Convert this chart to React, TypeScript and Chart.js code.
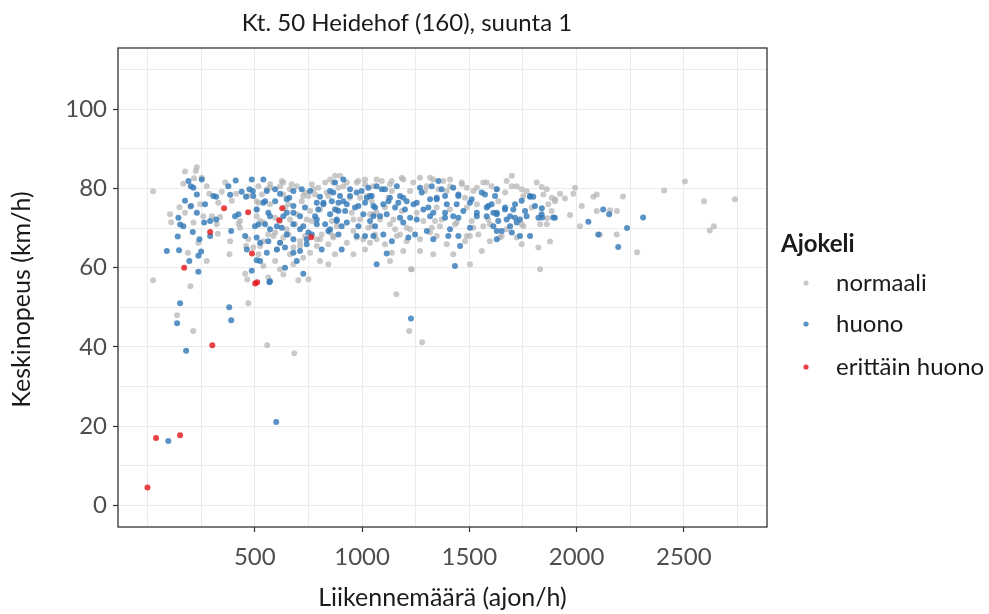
import React, { useEffect, useRef } from "react";
import { Chart, registerables } from "chart.js";

Chart.register(...registerables);

const TITLE = "Kt. 50 Heidehof (160), suunta 1";
const X_TITLE = "Liikennemäärä (ajon/h)";
const Y_TITLE = "Keskinopeus (km/h)";
const LEGEND_TITLE = "Ajokeli";
const SERIES_NAMES = ["normaali", "huono", "erittäin huono"];

// grid breaks and labelled breaks
const X_GRID = [0, 250, 500, 750, 1000, 1250, 1500, 1750, 2000, 2250, 2500, 2750];
const X_LABELED = [500, 1000, 1500, 2000, 2500];
const Y_GRID = [0, 10, 20, 30, 40, 50, 60, 70, 80, 90, 100, 110];
const Y_LABELED = [0, 20, 40, 60, 80, 100];
const X_RANGE = [-137.5, 2887.5];
const Y_RANGE = [-5.5, 115.5];

// [traffic volume (veh/h), mean speed (km/h)]
const normaali: [number, number][] = [
  [26, 56.8], [200, 55.3], [138, 48], [213, 44], [470, 51], [558, 40.4], [684, 38.4], [465, 57],
  [703, 56.8], [1160, 53.3], [1220, 44], [1280, 41.2], [1228, 59.6], [1830, 59.6], [26, 79.3],
  [2505, 81.8], [2408, 79.5], [2594, 76.8], [2738, 77.3], [2621, 69.4], [2640, 70.5], [2282, 63.9],
  [2216, 78], [2156, 74.5], [2188, 74.3], [1900, 77.3], [1863, 72.5],
  [230, 85.4], [225, 84.4], [175, 84.3], [217, 82.6], [253, 82.7], [167, 81.2], [288, 78.7],
  [346, 79.2], [362, 81.5], [149, 75.3], [198, 75.4], [245, 76], [175, 73.9], [110, 71.5],
  [214, 71.4], [260, 73], [300, 73], [338, 72.8], [424, 71.1], [431, 70.1], [328, 68.6],
  [237, 66.3], [188, 63.8], [382, 63.4], [459, 65.5], [470, 67.2], [455, 58.5], [413, 78.7],
  [517, 76.4], [276, 80.6], [330, 76.4], [393, 76.9], [470, 78.1], [105, 73.5], [323, 71],
  [385, 66.7], [431, 71.8], [276, 61.7],
  [626, 81.9], [874, 83.2], [890, 80.2], [571, 81.1], [517, 80.6], [672, 81.1], [766, 81.1],
  [828, 81.5], [975, 81.5], [1014, 82.3], [633, 78.5], [750, 78.1], [781, 78.5], [843, 78.1],
  [991, 77.7], [509, 76.8], [641, 75.2], [696, 73.5], [758, 74.3], [804, 74.7], [952, 73.9],
  [1053, 73.5], [595, 72.6], [664, 72.2], [859, 71.8], [525, 71.8], [595, 68.9], [657, 68.4],
  [812, 68.4], [851, 68.9], [960, 69.3], [1061, 68.4], [540, 66.7], [711, 66.7], [789, 67.2],
  [843, 65.9], [929, 66.3], [1014, 64.6], [493, 65.1], [603, 64.6], [664, 63.4], [758, 63.8],
  [595, 61.7], [804, 61.7], [540, 60.4], [680, 60.9], [633, 58.3], [750, 57.1], [563, 57.5],
  [633, 81.5], [571, 80.2], [533, 78.5], [696, 80.6], [734, 79], [796, 80.2], [866, 81.5],
  [913, 80.6], [944, 77.7], [1022, 78.1], [1045, 76.8], [719, 76.8], [657, 76], [571, 76],
  [509, 73], [618, 71.8], [688, 71], [766, 71.8], [882, 70.5], [991, 72.2], [1029, 70.1],
  [563, 68.4], [633, 67.6], [734, 68], [866, 67.6], [975, 67.6], [1037, 66.3], [525, 65.5],
  [680, 65.1], [789, 65.5], [874, 63.4], [960, 63.4], [726, 62.5], [843, 60.9], [618, 59.6],
  [517, 63.4],
  [509, 74.7], [556, 79.8], [618, 80.6], [664, 79.8], [726, 78.1], [773, 79.8], [835, 79],
  [587, 68], [649, 69.7], [742, 72.2], [804, 67.2], [866, 68], [540, 71.4], [618, 66.3],
  [711, 65.5],
  [851, 82.3], [897, 83.2], [929, 81.5], [983, 81.9], [1014, 81.1], [1068, 82.3], [1138, 81.9],
  [1185, 82.7], [1301, 80.6], [1332, 82.3], [1379, 81.9], [1410, 80.6], [1465, 81.1],
  [1519, 79.4], [1581, 81.5], [1628, 79.8], [1674, 81.9], [1721, 80.6], [1767, 79.4],
  [1814, 81.5], [1861, 79.8], [882, 74.7], [960, 72.2], [1037, 73.5], [1130, 71], [1208, 70.1],
  [1363, 70.5], [1441, 71.4], [1519, 70.1], [1596, 71], [1674, 69.7], [1752, 70.5], [1830, 71],
  [1006, 67.2], [1162, 68], [1317, 68.9], [1488, 68], [1643, 67.6],
  [1092, 81.9], [1192, 82.3], [1270, 82.7], [1317, 82.7], [1139, 79.4], [1224, 79.4],
  [1356, 79.8], [1395, 79.4], [1488, 80.2], [1535, 80.2], [1480, 77.7], [1535, 76], [1348, 75.2],
  [1123, 77.7], [1068, 73.9], [1146, 72.2], [1340, 71.8], [1371, 72.2], [1511, 71.8],
  [1565, 70.5], [1045, 70.5], [1154, 69.7], [1224, 69.7], [1325, 70.1], [1542, 68.4],
  [1208, 66.7], [1270, 67.2], [1480, 66.7], [1192, 64.2], [1332, 63.4], [1558, 64.2],
  [1068, 67.2], [1232, 59.6], [1503, 60.9], [1139, 63.8],
  [1053, 80.6], [1130, 81.1], [1239, 81.5], [1294, 79.4], [1410, 82.3], [1465, 81.5],
  [1565, 81.5], [1604, 80.6], [1107, 75.2], [1185, 74.3], [1255, 73.9], [1410, 74.7],
  [1488, 75.2], [1588, 72.2], [1084, 72.2], [1286, 71.8], [1433, 71], [1107, 65.9], [1177, 68.4],
  [1348, 68], [1395, 65.9], [1503, 68], [1596, 66.7], [1270, 64.2], [1425, 63.4], [1130, 61.7],
  [1698, 83.2], [1698, 80.6], [1744, 79.8], [1838, 80.4], [1993, 80.2], [1667, 79], [1752, 78.1],
  [1845, 78.5], [1884, 77.7], [1923, 78.7], [1946, 77.5], [1985, 78.7], [2078, 77.9],
  [2094, 78.5], [1635, 76.8], [1868, 76], [1899, 76.8], [1791, 75.2], [2024, 75.6], [1884, 74.3],
  [1969, 73.3], [2094, 74.3], [1744, 71], [1861, 71], [2016, 70.5], [1651, 68], [1721, 67.6],
  [1876, 66.6], [2109, 68.3], [2187, 68.4], [1744, 65.9], [1822, 65.1],
];

const huono: [number, number][] = [
  [97, 16.2], [600, 21], [180, 39], [138, 46], [152, 51], [381, 50], [390, 46.7], [568, 56.3],
  [1228, 47.2], [2310, 72.7], [2235, 70],
  [191, 81.9], [202, 80.6], [253, 82.3], [214, 80.2], [307, 78.1], [320, 77.9], [377, 80.6],
  [411, 82], [385, 78.4], [439, 79.2], [459, 77.9], [475, 79.8], [175, 76.9], [230, 78.5],
  [203, 75.6], [268, 76], [230, 73.9], [144, 72.6], [152, 70.9], [167, 70.5], [264, 71.4],
  [292, 71.8], [320, 72.2], [408, 73], [424, 73.5], [211, 69], [141, 67.9], [292, 68],
  [390, 69.3], [455, 68], [242, 67.2], [90, 64.2], [147, 64.4], [250, 64.1], [237, 63],
  [195, 61.7], [237, 59], [463, 64.6], [509, 61.9], [517, 70.9],
  [486, 82.3], [540, 82.3], [491, 79.4], [556, 79.4], [595, 79.8], [618, 78.7], [661, 77.7],
  [719, 79.8], [758, 79.4], [804, 77.9], [851, 79.4], [913, 82.3], [944, 79.8], [897, 78.1],
  [975, 79], [1029, 80.2], [1037, 78.1], [548, 76.8], [595, 76.8], [680, 75.6], [734, 75.2],
  [789, 76.4], [820, 76], [859, 76.8], [929, 76], [983, 75.6], [1014, 76.4], [1061, 75.2],
  [509, 74.7], [563, 73.9], [649, 73.9], [711, 73], [781, 73], [851, 73.5], [890, 74.3],
  [1006, 73.5], [501, 70.5], [548, 71], [571, 69.7], [626, 70.1], [680, 71], [726, 70.5],
  [789, 71], [828, 71], [882, 71.8], [929, 71.4], [983, 70.5], [1037, 71.8], [750, 68.9],
  [766, 68.4], [890, 68.4], [1014, 68], [509, 67.6], [563, 66.7], [618, 66.3], [680, 67.2],
  [641, 65.1], [711, 64.2], [812, 64.6], [905, 64.6], [556, 63.8], [696, 61.7], [525, 61.7],
  [641, 60], [726, 58.5], [571, 56.6], [1068, 60.9], [486, 59.2],
  [680, 79.4], [796, 74.7], [913, 76.8], [633, 73], [843, 69.3], [975, 68], [742, 65.9],
  [649, 68.4],
  [493, 78.1], [540, 76.4], [571, 73], [603, 70.5], [649, 77.3], [680, 73.9], [711, 69.7],
  [742, 67.2], [789, 72.2], [820, 76.4], [851, 69.7], [874, 74.7], [525, 66.3], [603, 64.6],
  [680, 63.8],
  [874, 81.5], [866, 79], [890, 76.4], [921, 74.3], [882, 72.2], [905, 70.5], [944, 78.1],
  [967, 75.2], [998, 79.4], [1022, 77.7], [1053, 75.6], [1084, 73], [1107, 79.8], [1123, 76.8],
  [1162, 80.6], [1177, 78.1], [1200, 74.7], [1224, 72.6], [1255, 76.4], [1278, 79],
  [1309, 75.2], [1317, 73], [1348, 77.3], [1371, 79.8], [1395, 76], [1425, 73], [1449, 78.1],
  [1472, 74.3], [1503, 76.4], [1535, 73], [1558, 79], [1581, 75.2], [1612, 73.9], [1635, 71.8],
  [1666, 74.7], [1690, 73], [1713, 76], [1736, 72.2], [1760, 74.3], [1783, 78.1], [1806, 75.6],
  [1837, 73.5],
  [1068, 80.6], [1092, 79.8], [1045, 78.1], [1099, 76], [1192, 77.7], [1208, 76.8], [1154, 75.2],
  [1270, 80.2], [1325, 80.6], [1356, 81.9], [1425, 80.2], [1317, 77.3], [1387, 78.1],
  [1449, 78.5], [1511, 77.3], [1573, 78.5], [1628, 79.8], [1240, 76], [1286, 74.7], [1332, 73.9],
  [1387, 73.9], [1441, 76], [1588, 75.6], [1628, 73.9], [1053, 73], [1115, 73.5], [1177, 72.6],
  [1192, 71.4], [1255, 72.2], [1387, 72.6], [1449, 72.6], [1581, 73], [1061, 70.5], [1302, 69.3],
  [1410, 69.7], [1503, 70.1], [1628, 69.3], [1099, 68.4], [1247, 68.4], [1402, 68], [1449, 68],
  [1139, 66.7], [1053, 68], [1457, 65.5], [1115, 63.6], [1433, 60.4],
  [1130, 77.7], [1348, 77.7], [1535, 73.9], [1216, 67.6], [1332, 67.2], [1169, 76.4],
  [1620, 78.1], [1783, 77.9], [1798, 77.9], [1744, 76.9], [1604, 76], [1667, 75.2], [1705, 74.7],
  [1838, 75], [1628, 73.5], [1674, 72.2], [1713, 72.6], [1767, 73], [1822, 72.6], [1899, 72.6],
  [2124, 74.7], [2152, 73.5], [2055, 71.6], [1612, 70.5], [1690, 70.5], [1721, 71.4],
  [1651, 69.3], [1698, 68.9], [1628, 67.2], [1736, 68], [1783, 68], [2101, 68.4], [2194, 65.2],
  [1839, 72.7], [1891, 72.7],
];

const erittainHuono: [number, number][] = [
  [0, 4.5], [40, 17], [152, 17.7], [171, 60], [292, 69], [302, 40.4], [357, 75], [469, 74],
  [487, 63.6], [502, 56], [511, 56.3], [614, 72], [628, 75], [763, 67.7],
];

const SERIES_COLORS = ["rgba(180,180,180,0.72)", "rgba(52,122,184,0.82)", "rgba(228,26,28,0.82)"];
const FONT = "Lato, 'Noto Sans', sans-serif";
const FONT_SIZE = 24;
const AXIS_TITLE_SIZE = 25;
const TEXT_COLOR = "#1a1a1a";
const TICK_TEXT = "#4d4d4d";

const decorations = {
  id: "decorations",
  afterDatasetsDraw(chart: Chart) {
    const { ctx, chartArea } = chart;
    ctx.save();
    ctx.strokeStyle = "#333333";
    ctx.lineWidth = 1.3;
    ctx.strokeRect(chartArea.left, chartArea.top, chartArea.right - chartArea.left, chartArea.bottom - chartArea.top);
    ctx.restore();
  },
  afterDraw(chart: Chart) {
    const { ctx, chartArea } = chart;
    ctx.save();
    ctx.fillStyle = TEXT_COLOR;
    ctx.textBaseline = "middle";
    ctx.textAlign = "center";
    ctx.font = `${FONT_SIZE}px ${FONT}`;
    ctx.fillText(TITLE, 407, 23);
    ctx.font = `${AXIS_TITLE_SIZE}px ${FONT}`;
    ctx.fillText(X_TITLE, (chartArea.left + chartArea.right) / 2, 598);
    ctx.save();
    ctx.translate(22, (chartArea.top + chartArea.bottom) / 2 + 12);
    ctx.rotate(-Math.PI / 2);
    ctx.fillText(Y_TITLE, 0, 0);
    ctx.restore();

    // legend
    ctx.textAlign = "left";
    ctx.font = `bold ${FONT_SIZE}px ${FONT}`;
    ctx.fillText(LEGEND_TITLE, 781, 244);
    ctx.font = `${FONT_SIZE}px ${FONT}`;
    const rows = [283, 324, 367];
    SERIES_NAMES.forEach((name, i) => {
      ctx.fillStyle = SERIES_COLORS[i];
      ctx.beginPath();
      ctx.arc(806, rows[i], 2.6, 0, Math.PI * 2);
      ctx.fill();
      ctx.fillStyle = TEXT_COLOR;
      ctx.fillText(name, 836, rows[i]);
    });
    ctx.restore();
  },
};

export default function App() {
  const canvasRef = useRef<HTMLCanvasElement | null>(null);

  useEffect(() => {
    const canvas = canvasRef.current;
    if (!canvas) return;
    const toPoints = (arr: [number, number][]) => arr.map(([x, y]) => ({ x, y }));
    const seriesData = [normaali, huono, erittainHuono];

    const chart = new Chart(canvas, {
      type: "scatter",
      data: {
        datasets: seriesData.map((arr, i) => ({
          label: SERIES_NAMES[i],
          data: toPoints(arr),
          backgroundColor: SERIES_COLORS[i],
          borderWidth: 0,
          pointRadius: 3,
          pointHoverRadius: 3,
          order: 3 - i,
        })),
      },
      options: {
        animation: false,
        responsive: true,
        maintainAspectRatio: false,
        layout: { padding: { left: 0, top: 48, right: 222, bottom: 0 } },
        plugins: {
          legend: { display: false },
          title: { display: false },
          tooltip: { enabled: false },
        },
        scales: {
          x: {
            type: "linear",
            min: X_RANGE[0],
            max: X_RANGE[1],
            afterBuildTicks: (scale: any) => {
              scale.ticks = X_GRID.map((v) => ({ value: v }));
            },
            afterFit: (scale: any) => {
              scale.height = 87;
            },
            border: { display: false },
            grid: {
              color: "#ebebeb",
              lineWidth: 1,
              tickLength: 5,
              tickWidth: 1.2,
              tickColor: (c: any) => (X_LABELED.includes(c.tick?.value) ? "#333333" : "rgba(0,0,0,0)"),
            },
            ticks: {
              autoSkip: false,
              maxRotation: 0,
              padding: 11,
              color: TICK_TEXT,
              font: { family: FONT, size: FONT_SIZE },
              callback: (v: any) => (X_LABELED.includes(Number(v)) ? String(v) : ""),
            },
          },
          y: {
            type: "linear",
            min: Y_RANGE[0],
            max: Y_RANGE[1],
            afterBuildTicks: (scale: any) => {
              scale.ticks = Y_GRID.map((v) => ({ value: v }));
            },
            afterFit: (scale: any) => {
              scale.width = 118;
            },
            border: { display: false },
            grid: {
              color: "#ebebeb",
              lineWidth: 1,
              tickLength: 5,
              tickWidth: 1.2,
              tickColor: (c: any) => (Y_LABELED.includes(c.tick?.value) ? "#333333" : "rgba(0,0,0,0)"),
            },
            ticks: {
              autoSkip: false,
              padding: 6,
              color: TICK_TEXT,
              font: { family: FONT, size: FONT_SIZE },
              callback: (v: any) => (Y_LABELED.includes(Number(v)) ? String(v) : ""),
            },
          },
        },
      },
      plugins: [decorations],
    });

    return () => chart.destroy();
  }, []);

  return (
    <div style={{ position: "fixed", left: 0, top: 0, width: 989, height: 614, background: "#ffffff" }}>
      <canvas ref={canvasRef} />
    </div>
  );
}
